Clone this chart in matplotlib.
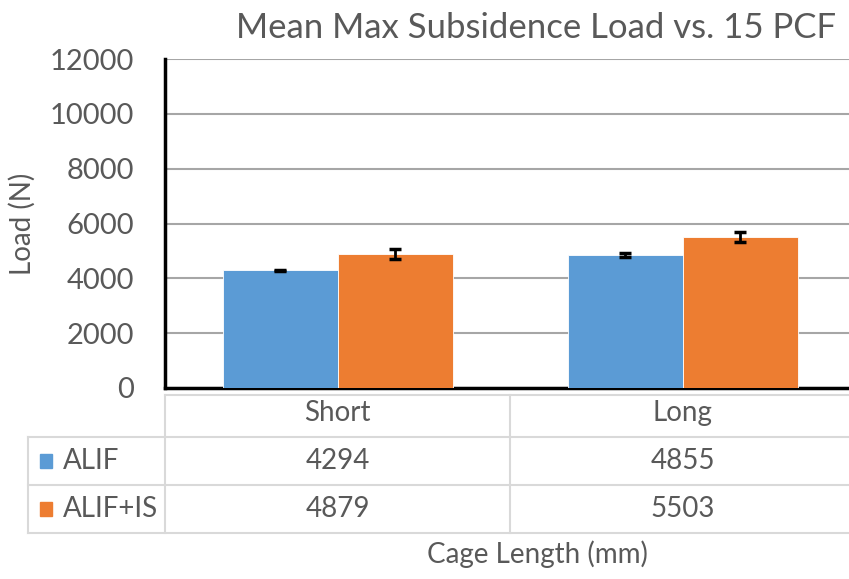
import matplotlib.pyplot as plt
import numpy as np

categories = ["Short", "Long"]
series = ["ALIF", "ALIF+IS"]
alif = [4294, 4855]
alif_is = [4879, 5503]
alif_err = [25, 60]
alif_is_err = [180, 190]
colors = ["#5B9BD5", "#ED7D31"]

plt.rcParams["font.family"] = ["Lato", "DejaVu Sans"]
TXT = "#595959"
W, H = 849, 579


def fy(py):
    return 1 - py / H


fig = plt.figure(figsize=(W / 100, H / 100), dpi=100)
ax = fig.add_axes([165 / W, fy(388), 690 / W, (388 - 59) / H])

x = np.arange(len(categories))
bw = 1 / 3
values = [alif, alif_is]
errs = [alif_err, alif_is_err]
for i, (vals, err) in enumerate(zip(values, errs)):
    pos = x + (i - 0.5) * bw
    ax.bar(pos, vals, width=bw, color=colors[i], edgecolor="white", linewidth=0.6, zorder=3)
    ax.errorbar(pos, vals, yerr=err, fmt="none", ecolor="black", elinewidth=2,
                capsize=4.5, capthick=2.5, zorder=4)

ax.set_xlim(-0.5, len(categories) - 0.5)
ax.set_ylim(0, 12000)
ax.set_yticks(np.arange(0, 12001, 2000))
ax.tick_params(axis="y", length=0, labelsize=21, labelcolor=TXT, pad=22)
ax.set_xticks([])
ax.grid(axis="y", color="#A6A6A6", linewidth=1.5, zorder=0)
for s in ["top", "right"]:
    ax.spines[s].set_visible(False)
ax.spines["left"].set_linewidth(2.5)
ax.spines["bottom"].set_linewidth(2.5)
ax.set_ylabel("Load (N)", fontsize=20, color=TXT)
ax.yaxis.set_label_coords((36 - 165) / 690, 0.5)

fig.text(536 / W, fy(28), "Mean Max Subsidence Load vs. 15 PCF", ha="center", va="center",
         fontsize=25, color=TXT)

# data table below the axes
line_c = "#D9D9D9"
row_lines = [395, 437, 485, 533]
for k, py in enumerate(row_lines):
    x0 = 165 if k == 0 else 28
    fig.add_artist(plt.Line2D([x0 / W, 1], [fy(py), fy(py)], color=line_c, lw=1.5))
fig.add_artist(plt.Line2D([28 / W, 28 / W], [fy(437), fy(533)], color=line_c, lw=1.5))
for px in [165, 510]:
    fig.add_artist(plt.Line2D([px / W, px / W], [fy(395), fy(533)], color=line_c, lw=1.5))

for j, cat in enumerate(categories):
    fig.text(ax.transData.transform((x[j], 0))[0] / W, fy(413), cat, ha="center",
             va="center", fontsize=20, color=TXT)
row_y = [461, 509]
for i, name in enumerate(series):
    fig.add_artist(plt.Rectangle((40 / W, fy(row_y[i] + 7)), 12 / W, 14 / H,
                                 color=colors[i]))
    fig.text(63 / W, fy(row_y[i]), name, ha="left", va="center", fontsize=20, color=TXT)
    for j in range(len(categories)):
        fig.text(ax.transData.transform((x[j], 0))[0] / W, fy(row_y[i]), str(values[i][j]),
                 ha="center", va="center", fontsize=20, color=TXT)

fig.text(537 / W, fy(554), "Cage Length (mm)", ha="center", va="center", fontsize=20,
         color=TXT)

fig.savefig("out.png", dpi=100, facecolor="white")
